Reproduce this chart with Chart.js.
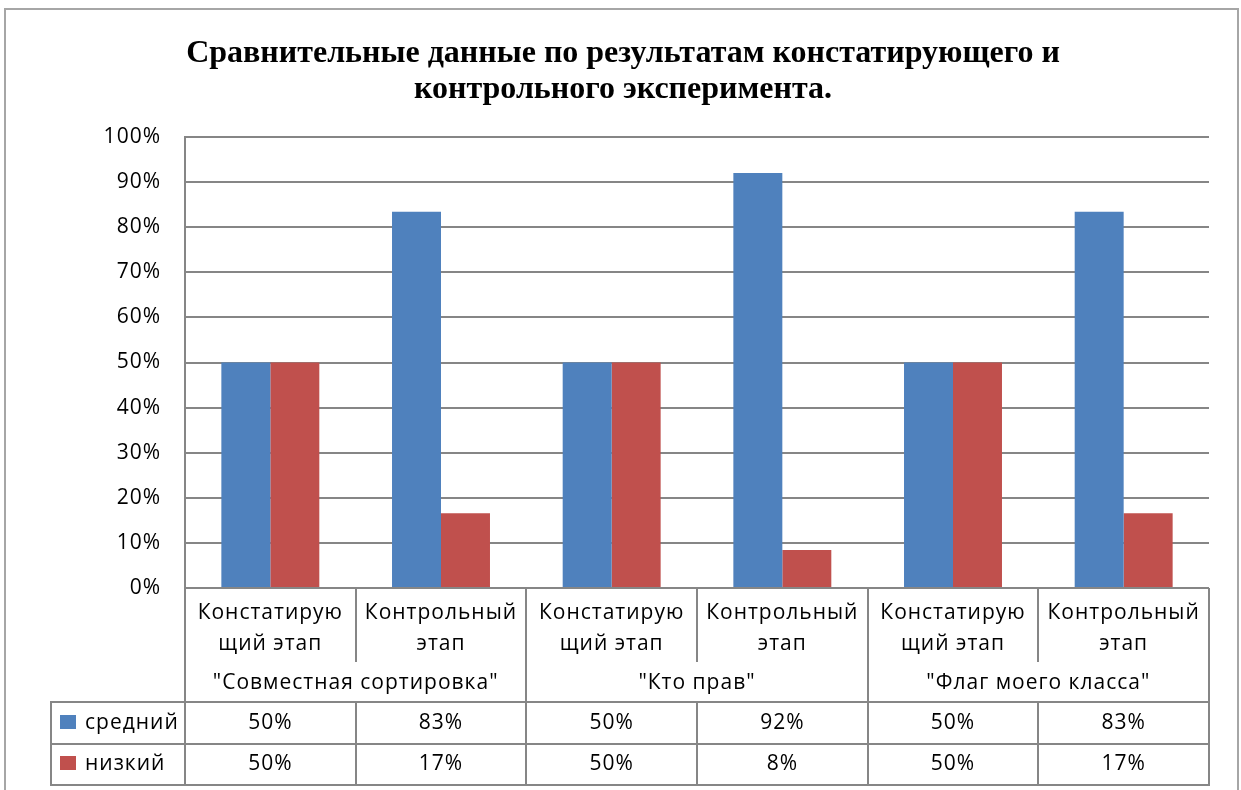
<!DOCTYPE html>
<html>
<head>
<meta charset="utf-8">
<script src="https://cdn.jsdelivr.net/npm/chart.js@4"></script>
<style>
  html, body { margin: 0; padding: 0; background: #fff; }
  #wrap { position: relative; width: 1241px; height: 790px; }
</style>
</head>
<body>
<div id="wrap"><canvas id="my-chart" width="1241" height="790"></canvas></div>
<script>
// data
const titleLines = ['Сравнительные данные по результатам констатирующего и', 'контрольного эксперимента.'];
const stageLabels = [
    ['Констатирую', 'щий этап'], ['Контрольный', 'этап'],
    ['Констатирую', 'щий этап'], ['Контрольный', 'этап'],
    ['Констатирую', 'щий этап'], ['Контрольный', 'этап']
];
const groupLabels = ['"Совместная сортировка"', '"Кто прав"', '"Флаг моего класса"'];
const seriesNames = ['средний', 'низкий'];
const middleValues = [50, 83.4, 50, 92, 50, 83.4];
const lowValues = [50, 16.6, 50, 8.4, 50, 16.6];
const yTicks = [0, 10, 20, 30, 40, 50, 60, 70, 80, 90, 100];

const blue = '#4F81BD';
const red = '#C0504D';
const gridColor = '#868686';
const labelFont = '21px "Open Sans"';

// plugin: outer frame, title, group labels, separators and data table
const tablePlugin = {
    id: 'dataTable',
    beforeDraw(chart) {
        const ctx = chart.ctx;
        ctx.letterSpacing = '1px';
        ctx.save();
        ctx.strokeStyle = '#a6a6a6';
        ctx.lineWidth = 2;
        ctx.strokeRect(5, 9, 1233, 800);

        ctx.letterSpacing = '0px';
        ctx.fillStyle = '#000';
        ctx.font = 'bold 32px "Liberation Serif"';
        ctx.textAlign = 'center';
        ctx.textBaseline = 'middle';
        titleLines.forEach((t, i) => ctx.fillText(t, 623, 54 + i * 36));
        ctx.restore();
    },
    afterDraw(chart) {
        const ctx = chart.ctx;
        const x = chart.scales.x;
        const area = chart.chartArea;
        const bottom = area.bottom;
        const catW = (x.right - x.left) / stageLabels.length;
        const rowTop = 702, rowMid = 744, rowBottom = 785, tableLeft = 51;
        const subEnd = 662;

        ctx.save();
        ctx.strokeStyle = gridColor;
        ctx.lineWidth = 2;
        ctx.beginPath();
        for (let k = 0; k <= stageLabels.length; k++) {
            const px = Math.round(x.left + k * catW);
            if (k % 2 === 0) {
                ctx.moveTo(px, bottom); ctx.lineTo(px, rowBottom);
            } else {
                ctx.moveTo(px, bottom); ctx.lineTo(px, subEnd);
                ctx.moveTo(px, rowTop); ctx.lineTo(px, rowBottom);
            }
        }
        // table rows
        ctx.moveTo(tableLeft, rowTop); ctx.lineTo(x.right, rowTop);
        ctx.moveTo(tableLeft, rowMid); ctx.lineTo(x.right, rowMid);
        ctx.moveTo(tableLeft, rowBottom); ctx.lineTo(x.right + 1, rowBottom);
        ctx.moveTo(tableLeft, rowTop - 1); ctx.lineTo(tableLeft, rowBottom + 1);
        ctx.stroke();

        ctx.fillStyle = '#000';
        ctx.font = labelFont;
        ctx.textAlign = 'center';
        ctx.textBaseline = 'middle';
        groupLabels.forEach((g, i) => {
            const cx = x.left + (i * 2 + 1) * catW;
            ctx.fillText(g, cx, 683);
        });

        const rows = [middleValues, lowValues];
        const colors = [blue, red];
        const rowCenters = [723, 764];
        rows.forEach((vals, r) => {
            vals.forEach((v, i) => {
                ctx.fillText(Math.round(v) + '%', x.getPixelForValue(i), rowCenters[r]);
            });
        });
        ctx.textAlign = 'left';
        seriesNames.forEach((n, r) => {
            ctx.fillStyle = colors[r];
            ctx.fillRect(60, rowCenters[r] - 8, 16, 14);
            ctx.fillStyle = '#000';
            ctx.fillText(n, 85, rowCenters[r]);
        });
        ctx.restore();
    }
};

const data = {
    labels: stageLabels,
    datasets: [
        { label: seriesNames[0], data: middleValues, backgroundColor: blue },
        { label: seriesNames[1], data: lowValues, backgroundColor: red }
    ]
};

const config = {
    type: 'bar',
    data,
    options: {
        responsive: false,
        animation: false,
        layout: {
            padding: { left: 0, right: 32, top: 137, bottom: 0 }
        },
        datasets: {
            bar: { barPercentage: 1, categoryPercentage: 0.574 }
        },
        plugins: {
            legend: { display: false },
            tooltip: { enabled: false },
            title: { display: false }
        },
        scales: {
            x: {
                grid: { display: false },
                border: { display: false },
                ticks: {
                    color: '#000',
                    font: { family: '"Open Sans"', size: 21, lineHeight: 1.45 },
                    padding: 2,
                    maxRotation: 0,
                    autoSkip: false
                },
                afterFit(scale) { scale.height = 202; }
            },
            y: {
                min: 0,
                max: 100,
                afterBuildTicks(scale) { scale.ticks = yTicks.map(v => ({ value: v })); },
                grid: { color: gridColor, lineWidth: 2, drawTicks: false },
                border: { color: gridColor, width: 2 },
                ticks: {
                    color: '#000',
                    font: { family: '"Open Sans"', size: 21 },
                    padding: 24,
                    callback: v => v + '%'
                },
                afterFit(scale) { scale.width = 185; }
            }
        }
    },
    plugins: [tablePlugin]
};

const myChart = new Chart(document.getElementById('my-chart'), config);
</script>
</body>
</html>
